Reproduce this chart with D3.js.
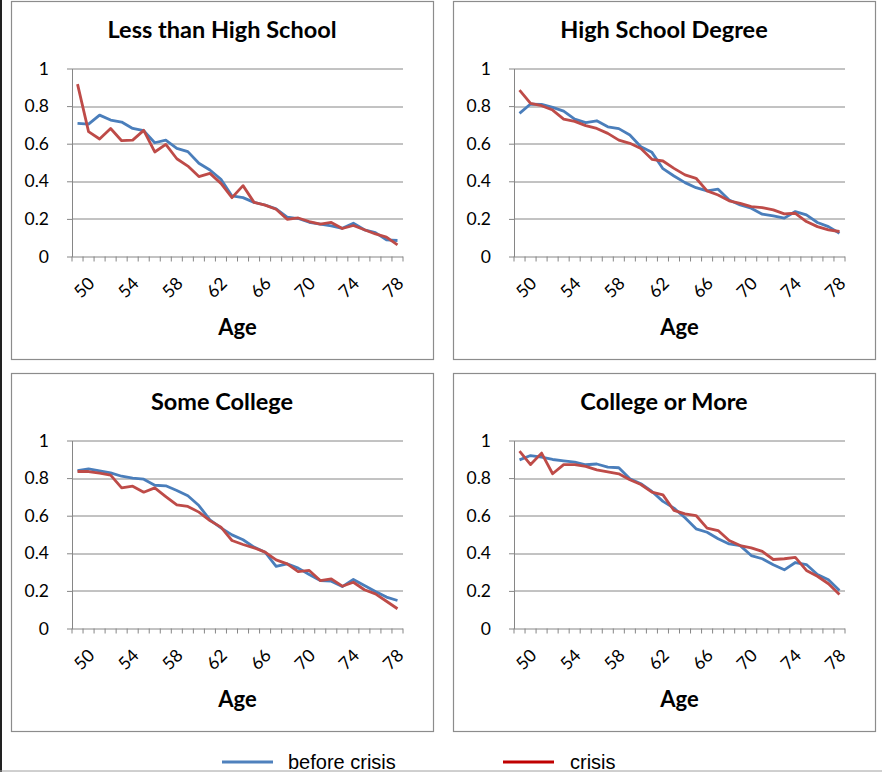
<!DOCTYPE html>
<html>
<head>
<meta charset="utf-8">
<script src="https://cdn.jsdelivr.net/npm/d3@7"></script>
<style>
  body { margin: 0; background: #fff; }
  svg { display: block; }
</style>
</head>
<body>
<div id="chart"></div>
<script>
// ages on the x axis and the labels shown
const ages = [49,50,51,52,53,54,55,56,57,58,59,60,61,62,63,64,65,66,67,68,69,70,71,72,73,74,75,76,77,78];
const ageTicks = [50,54,58,62,66,70,74,78];
const yTicks = [0,0.2,0.4,0.6,0.8,1];
const titles = ["Less than High School","High School Degree","Some College","College or More"];
const seriesNames = ["before crisis","crisis"];

// values
const lessHsBefore = [0.708,0.704,0.752,0.726,0.715,0.681,0.669,0.605,0.619,0.575,0.558,0.496,0.460,0.411,0.322,0.313,0.288,0.274,0.253,0.209,0.202,0.182,0.172,0.163,0.150,0.177,0.142,0.127,0.088,0.085];
const lessHsCrisis = [0.917,0.664,0.625,0.681,0.616,0.619,0.671,0.556,0.596,0.520,0.481,0.425,0.442,0.389,0.313,0.377,0.288,0.273,0.251,0.198,0.205,0.186,0.172,0.181,0.149,0.165,0.142,0.120,0.103,0.062];
const hsBefore = [0.761,0.811,0.809,0.793,0.773,0.731,0.712,0.722,0.690,0.680,0.646,0.584,0.554,0.467,0.428,0.393,0.366,0.349,0.358,0.301,0.274,0.257,0.225,0.216,0.204,0.239,0.221,0.181,0.159,0.124];
const hsCrisis = [0.885,0.814,0.802,0.779,0.731,0.719,0.696,0.681,0.655,0.619,0.602,0.575,0.517,0.508,0.469,0.434,0.416,0.349,0.327,0.296,0.283,0.265,0.260,0.248,0.227,0.230,0.186,0.159,0.142,0.133];
const someColBefore = [0.840,0.849,0.839,0.828,0.810,0.800,0.794,0.762,0.759,0.734,0.706,0.654,0.578,0.535,0.498,0.472,0.433,0.406,0.330,0.344,0.321,0.287,0.255,0.252,0.223,0.261,0.229,0.197,0.167,0.149];
const someColCrisis = [0.835,0.835,0.826,0.816,0.748,0.757,0.725,0.748,0.702,0.658,0.649,0.619,0.574,0.539,0.468,0.447,0.429,0.406,0.365,0.344,0.303,0.309,0.255,0.264,0.225,0.246,0.206,0.184,0.145,0.105];
const colMoreBefore = [0.897,0.920,0.911,0.899,0.892,0.885,0.871,0.875,0.858,0.855,0.796,0.770,0.729,0.676,0.640,0.589,0.530,0.512,0.477,0.450,0.441,0.388,0.371,0.339,0.312,0.351,0.340,0.287,0.259,0.202];
const colMoreCrisis = [0.943,0.872,0.933,0.823,0.872,0.872,0.862,0.844,0.833,0.823,0.791,0.766,0.725,0.711,0.628,0.610,0.601,0.534,0.521,0.468,0.441,0.429,0.410,0.367,0.371,0.378,0.309,0.278,0.238,0.181];

const panelData = [
  [lessHsBefore, lessHsCrisis],
  [hsBefore, hsCrisis],
  [someColBefore, someColCrisis],
  [colMoreBefore, colMoreCrisis]
];

const W = 882, H = 772;
const lineColors = ["#4a7ebb", "#be4b48"];
const legendColors = ["#4f81bd", "#c00000"];
const gridColor = "#868686";
const font = "Lato, 'Open Sans', sans-serif";

const svg = d3.select("#chart").append("svg")
  .attr("width", W).attr("height", H);

// page edges
svg.append("line").attr("x1", 1).attr("x2", 1).attr("y1", 0).attr("y2", H)
  .attr("stroke", "#222").attr("stroke-width", 2);
svg.append("line").attr("x1", 0).attr("x2", W).attr("y1", 771).attr("y2", 771)
  .attr("stroke", "#a0a0a0").attr("stroke-width", 1);

const frameW = 422, frameH = 358;
const origins = [[11, 1], [453, 1], [11, 373], [453, 373]];
const margin = {top: 67.5, left: 61, right: 30, bottom: 102.5};
const width = frameW - margin.left - margin.right,
      height = frameH - margin.top - margin.bottom;

panelData.forEach((pair, p) => {
  const g = svg.append("g")
    .attr("transform", `translate(${origins[p][0]},${origins[p][1]})`);

  g.append("rect")
    .attr("x", 0.5).attr("y", 0.5)
    .attr("width", frameW).attr("height", frameH)
    .attr("fill", "#fff").attr("stroke", "#8c8c8c").attr("stroke-width", 1.2);

  g.append("text")
    .attr("x", frameW / 2).attr("y", 36.5)
    .attr("text-anchor", "middle")
    .attr("font-family", font).attr("font-weight", "bold").attr("font-size", 23.5)
    .text(titles[p]);

  const plot = g.append("g")
    .attr("transform", `translate(${margin.left},${margin.top})`);

  const x = d3.scaleBand().domain(ages).range([0, width]).padding(0);
  const y = d3.scaleLinear().domain([0, 1]).range([height, 0]);

  // gridlines
  plot.append("g").selectAll("line")
    .data(yTicks.filter(d => d > 0))
    .join("line")
    .attr("x1", 0).attr("x2", width)
    .attr("y1", d => Math.round(y(d)) + 0.5).attr("y2", d => Math.round(y(d)) + 0.5)
    .attr("stroke", gridColor).attr("stroke-width", 1);

  // y axis
  const yAxis = plot.append("g")
    .call(d3.axisLeft(y).tickValues(yTicks).tickSizeInner(5).tickSizeOuter(0).tickPadding(18)
      .tickFormat(d => String(d)));
  yAxis.select(".domain").attr("stroke", gridColor);
  yAxis.selectAll(".tick line").attr("stroke", gridColor);
  yAxis.selectAll("text")
    .attr("font-family", font).attr("font-size", 17.5).attr("fill", "#000");

  // x axis line with tick marks on category boundaries
  const xg = plot.append("g").attr("transform", `translate(0,${height})`);
  xg.append("line").attr("x1", 0).attr("x2", width).attr("y1", 0.5).attr("y2", 0.5)
    .attr("stroke", gridColor);
  xg.selectAll(".bt")
    .data(ages.concat(["end"]))
    .join("line")
    .attr("class", "bt")
    .attr("x1", d => d === "end" ? width : x(d))
    .attr("x2", d => d === "end" ? width : x(d))
    .attr("y1", 0).attr("y2", 5)
    .attr("stroke", gridColor);

  const xAxis = xg.append("g")
    .call(d3.axisBottom(x).tickValues(ageTicks).tickSize(0).tickPadding(0));
  xAxis.select(".domain").remove();
  xAxis.selectAll("text")
    .attr("font-family", font).attr("font-size", 17.5).attr("fill", "#000")
    .attr("text-anchor", "end")
    .attr("dy", null).attr("y", null)
    .attr("dominant-baseline", "middle")
    .attr("transform", "translate(4,25) rotate(-45)");

  g.append("text")
    .attr("x", margin.left + width / 2).attr("y", 334)
    .attr("text-anchor", "middle")
    .attr("font-family", font).attr("font-weight", "bold").attr("font-size", 22)
    .text("Age");

  const line = d3.line()
    .x((d, i) => x(ages[i]) + x.bandwidth() / 2)
    .y(d => y(d));

  plot.selectAll(".series")
    .data(pair)
    .join("path")
    .attr("class", "series")
    .attr("d", d => line(d))
    .attr("fill", "none")
    .attr("stroke", (d, i) => lineColors[i])
    .attr("stroke-width", 2.8)
    .attr("stroke-linejoin", "round");
});

// legend
const legendX = [222, 503];
const legend = svg.append("g").selectAll("g")
  .data(seriesNames)
  .join("g")
  .attr("transform", (d, i) => `translate(${legendX[i]},762)`);
legend.append("line")
  .attr("x1", 0).attr("x2", 51).attr("y1", 0).attr("y2", 0)
  .attr("stroke", (d, i) => legendColors[i]).attr("stroke-width", 3);
legend.append("text")
  .attr("x", (d, i) => i === 0 ? 66 : 67).attr("y", 6.5)
  .attr("font-family", "'Liberation Sans', Arial, sans-serif").attr("font-size", 20)
  .text(d => d);
</script>
</body>
</html>
